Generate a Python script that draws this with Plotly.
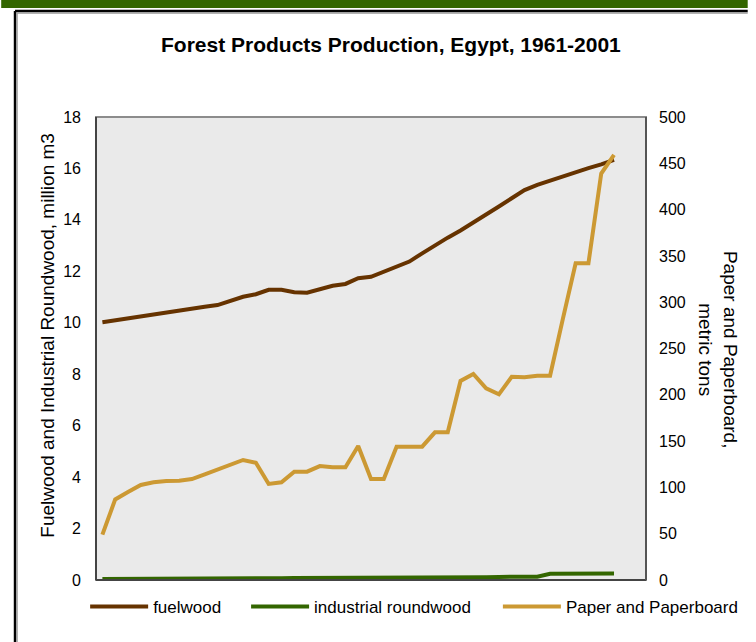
import plotly.graph_objects as go

years = list(range(1961, 2002))
fuelwood = [10.02, 10.10, 10.17, 10.25, 10.32, 10.40, 10.47, 10.55, 10.62, 10.69,
            10.86, 11.01, 11.11, 11.28, 11.28, 11.19, 11.17, 11.31, 11.44, 11.51,
            11.73, 11.79, 11.99, 12.18, 12.38, 12.70, 13.02, 13.31, 13.59, 13.89,
            14.19, 14.52, 14.84, 15.16, 15.36, 15.53, 15.68, 15.85, 16.01, 16.16,
            16.33]
industrial = [0.04, 0.04, 0.04, 0.05, 0.05, 0.05, 0.05, 0.05, 0.06, 0.06,
              0.06, 0.07, 0.07, 0.07, 0.07, 0.08, 0.08, 0.08, 0.08, 0.09,
              0.09, 0.09, 0.09, 0.10, 0.10, 0.10, 0.10, 0.11, 0.11, 0.11,
              0.11, 0.12, 0.12, 0.12, 0.13, 0.24, 0.24, 0.25, 0.25, 0.25,
              0.25]
paper = [49, 87, 95, 102.6, 105.5, 107, 107.3, 109, 114, 119.5,
         124.5, 129.6, 126.7, 103.7, 105.5, 117, 117, 123, 121.7, 121.7,
         144.7, 109, 109, 144, 144, 144, 159.5, 159.5, 215, 222.5,
         207, 200.5, 219.5, 219, 220.6, 220.6, 282, 342, 342, 439,
         459]

left_ticks = [0, 2, 4, 6, 8, 10, 12, 14, 16, 18]
right_ticks = [0, 50, 100, 150, 200, 250, 300, 350, 400, 450, 500]

C_FUEL = "#663300"
C_IND = "#336600"
C_PAPER = "#CC9933"

SANS = "Liberation Sans, Arial, sans-serif"

x_idx = list(range(len(years)))

fig = go.Figure()
fig.add_trace(go.Scatter(x=x_idx, y=fuelwood, name="fuelwood", mode="lines",
                         line=dict(color=C_FUEL, width=4), yaxis="y", legend="legend"))
fig.add_trace(go.Scatter(x=x_idx, y=industrial, name="industrial roundwood", mode="lines",
                         line=dict(color=C_IND, width=4), yaxis="y", legend="legend2"))
fig.add_trace(go.Scatter(x=x_idx, y=paper, name="Paper and Paperboard", mode="lines",
                         line=dict(color=C_PAPER, width=4), yaxis="y2", legend="legend3"))

W, H = 756, 642
L, R, T, B = 96, 653, 117, 580

def px(xp):
    return (xp - L) / (R - L)

def py(yp):
    return (B - yp) / (B - T)

shapes = [
    dict(type="rect", xref="paper", yref="paper", x0=px(0), x1=px(W), y0=py(8), y1=py(0),
         fillcolor="#336600", line=dict(width=0), layer="above"),
    dict(type="line", xref="paper", yref="paper", x0=px(14), x1=px(W), y0=py(11), y1=py(11),
         line=dict(color="#000000", width=2.5)),
    dict(type="line", xref="paper", yref="paper", x0=px(14), x1=px(14), y0=py(11), y1=py(H),
         line=dict(color="#000000", width=2.5)),
    dict(type="line", xref="paper", yref="paper", x0=px(16), x1=px(16), y0=py(13), y1=py(H),
         line=dict(color="#999999", width=1.5)),
    dict(type="line", xref="paper", yref="paper", x0=px(16), x1=px(W), y0=py(13), y1=py(13),
         line=dict(color="#999999", width=1.5)),
    dict(type="rect", xref="paper", yref="paper", x0=0, x1=1, y0=0, y1=1,
         line=dict(color="#8c8c8c", width=2)),
    dict(type="line", xref="paper", yref="paper", x0=0, x1=0, y0=0, y1=1,
         line=dict(color="#444444", width=2)),
    dict(type="line", xref="paper", yref="paper", x0=0, x1=1, y0=0, y1=0,
         line=dict(color="#444444", width=2)),
    dict(type="line", xref="paper", yref="paper", x0=1, x1=1, y0=0, y1=1,
         line=dict(color="#555555", width=2)),
]

annotations = [
    dict(text="<b>Forest Products Production, Egypt, 1961-2001</b>", xref="paper", yref="paper",
         x=px(395), y=py(45), xanchor="center", yanchor="middle", showarrow=False,
         font=dict(family=SANS, size=21, color="#000000")),
    dict(text="Fuelwood and Industrial Roundwood, million m3", xref="paper", yref="paper",
         x=px(46), y=py(335), xanchor="center", yanchor="middle", showarrow=False, textangle=-90,
         font=dict(family=SANS, size=19, color="#000000")),
    dict(text="Paper and Paperboard,<br>metric tons", xref="paper", yref="paper",
         x=px(726), y=py(350), xanchor="center", yanchor="middle", showarrow=False, textangle=90,
         font=dict(family=SANS, size=19, color="#000000")),
]

leg_common = dict(orientation="h", yanchor="middle", xanchor="left",
                  font=dict(family=SANS, size=17, color="#000000"),
                  itemwidth=58, bgcolor="rgba(0,0,0,0)", borderwidth=0)

fig.update_layout(
    width=W, height=H, autosize=False,
    margin=dict(l=L, r=W - R, t=T, b=H - B),
    paper_bgcolor="#FFFFFF",
    plot_bgcolor="#EAEAEA",
    showlegend=True,
    legend=dict(x=px(85), y=py(607), **leg_common),
    legend2=dict(x=px(248), y=py(607), **leg_common),
    legend3=dict(x=px(503), y=py(607), **leg_common),
    xaxis=dict(range=[-0.5, 42.5], showticklabels=False, ticks="", showgrid=False,
               zeroline=False, showline=False, fixedrange=True),
    yaxis=dict(range=[0, 18], tickvals=left_ticks, ticks="", showgrid=False, zeroline=False,
               showline=False, ticklabelstandoff=14,
               tickfont=dict(family=SANS, size=16, color="#000000")),
    yaxis2=dict(range=[0, 500], tickvals=right_ticks, overlaying="y", side="right", ticks="",
                showgrid=False, zeroline=False, showline=False, ticklabelstandoff=12,
                tickfont=dict(family=SANS, size=16, color="#000000")),
    shapes=shapes,
    annotations=annotations,
)

post = ("document.body.style.margin='0';document.body.style.padding='0';"
        "document.body.style.overflow='hidden';"
        "var gd=document.getElementById('{plot_id}');"
        "gd.style.width='756px';gd.style.height='642px';"
        "Plotly.relayout(gd,{width:756,height:642,autosize:false});")

fig.write_html("out.html", config={"displayModeBar": False, "responsive": False},
               post_script=post)
